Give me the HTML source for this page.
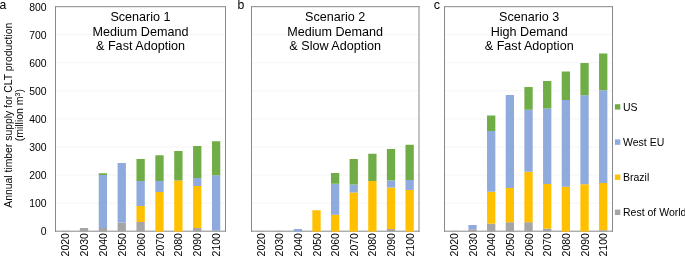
<!DOCTYPE html><html><head><meta charset="utf-8"><style>
html,body{margin:0;padding:0;background:#fff;width:685px;height:256px;overflow:hidden}
svg{display:block;will-change:transform}text{font-family:"Liberation Sans",sans-serif;fill:#000}
</style></head><body>
<svg width="685" height="256" viewBox="0 0 685 256">
<line x1="55.50" y1="203.12" x2="225.50" y2="203.12" stroke="#F5F5F5" stroke-width="1"/>
<line x1="55.50" y1="175.05" x2="225.50" y2="175.05" stroke="#F5F5F5" stroke-width="1"/>
<line x1="55.50" y1="146.97" x2="225.50" y2="146.97" stroke="#F5F5F5" stroke-width="1"/>
<line x1="55.50" y1="118.90" x2="225.50" y2="118.90" stroke="#F5F5F5" stroke-width="1"/>
<line x1="55.50" y1="90.82" x2="225.50" y2="90.82" stroke="#F5F5F5" stroke-width="1"/>
<line x1="55.50" y1="62.75" x2="225.50" y2="62.75" stroke="#F5F5F5" stroke-width="1"/>
<line x1="55.50" y1="34.67" x2="225.50" y2="34.67" stroke="#F5F5F5" stroke-width="1"/>
<path d="M55.00 6.70 H226.00 M55.50 6.20 V231.70 M225.50 6.20 V231.70 M55.00 231.20 H226.00" fill="none" stroke="#898989" stroke-width="1"/>
<rect x="61.00" y="230.80" width="8.30" height="0.80" fill="#A5A5A5"/>
<rect x="79.87" y="228.00" width="8.30" height="3.60" fill="#A5A5A5"/>
<rect x="98.74" y="228.00" width="8.30" height="3.60" fill="#A5A5A5"/>
<rect x="98.74" y="175.00" width="8.30" height="53.00" fill="#8FAADC"/>
<rect x="98.74" y="173.25" width="8.30" height="1.75" fill="#70AD47"/>
<rect x="117.61" y="222.50" width="8.30" height="9.10" fill="#A5A5A5"/>
<rect x="117.61" y="163.00" width="8.30" height="59.50" fill="#8FAADC"/>
<rect x="136.48" y="222.00" width="8.30" height="9.60" fill="#A5A5A5"/>
<rect x="136.48" y="206.00" width="8.30" height="16.00" fill="#FFC000"/>
<rect x="136.48" y="181.00" width="8.30" height="25.00" fill="#8FAADC"/>
<rect x="136.48" y="159.00" width="8.30" height="22.00" fill="#70AD47"/>
<rect x="155.35" y="192.00" width="8.30" height="39.60" fill="#FFC000"/>
<rect x="155.35" y="181.00" width="8.30" height="11.00" fill="#8FAADC"/>
<rect x="155.35" y="155.25" width="8.30" height="25.75" fill="#70AD47"/>
<rect x="174.22" y="180.50" width="8.30" height="51.10" fill="#FFC000"/>
<rect x="174.22" y="151.00" width="8.30" height="29.50" fill="#70AD47"/>
<rect x="193.09" y="228.00" width="8.30" height="3.60" fill="#A5A5A5"/>
<rect x="193.09" y="186.00" width="8.30" height="42.00" fill="#FFC000"/>
<rect x="193.09" y="178.00" width="8.30" height="8.00" fill="#8FAADC"/>
<rect x="193.09" y="146.00" width="8.30" height="32.00" fill="#70AD47"/>
<rect x="211.96" y="230.50" width="8.30" height="1.10" fill="#A5A5A5"/>
<rect x="211.96" y="175.25" width="8.30" height="55.25" fill="#8FAADC"/>
<rect x="211.96" y="141.25" width="8.30" height="34.00" fill="#70AD47"/>
<text x="140.50" y="21.00" font-size="12.60" text-anchor="middle">Scenario 1</text>
<text x="140.50" y="35.60" font-size="12.60" text-anchor="middle">Medium Demand</text>
<text x="140.50" y="50.20" font-size="12.60" text-anchor="middle">&amp; Fast Adoption</text>
<text transform="translate(69.20,233.1) rotate(-90)" font-size="10.50" text-anchor="end">2020</text>
<text transform="translate(88.07,233.1) rotate(-90)" font-size="10.50" text-anchor="end">2030</text>
<text transform="translate(106.94,233.1) rotate(-90)" font-size="10.50" text-anchor="end">2040</text>
<text transform="translate(125.81,233.1) rotate(-90)" font-size="10.50" text-anchor="end">2050</text>
<text transform="translate(144.68,233.1) rotate(-90)" font-size="10.50" text-anchor="end">2060</text>
<text transform="translate(163.55,233.1) rotate(-90)" font-size="10.50" text-anchor="end">2070</text>
<text transform="translate(182.42,233.1) rotate(-90)" font-size="10.50" text-anchor="end">2080</text>
<text transform="translate(201.29,233.1) rotate(-90)" font-size="10.50" text-anchor="end">2090</text>
<text transform="translate(220.16,233.1) rotate(-90)" font-size="10.50" text-anchor="end">2100</text>
<line x1="251.50" y1="203.12" x2="419.50" y2="203.12" stroke="#F5F5F5" stroke-width="1"/>
<line x1="251.50" y1="175.05" x2="419.50" y2="175.05" stroke="#F5F5F5" stroke-width="1"/>
<line x1="251.50" y1="146.97" x2="419.50" y2="146.97" stroke="#F5F5F5" stroke-width="1"/>
<line x1="251.50" y1="118.90" x2="419.50" y2="118.90" stroke="#F5F5F5" stroke-width="1"/>
<line x1="251.50" y1="90.82" x2="419.50" y2="90.82" stroke="#F5F5F5" stroke-width="1"/>
<line x1="251.50" y1="62.75" x2="419.50" y2="62.75" stroke="#F5F5F5" stroke-width="1"/>
<line x1="251.50" y1="34.67" x2="419.50" y2="34.67" stroke="#F5F5F5" stroke-width="1"/>
<path d="M251.00 6.70 H419.50 M251.50 6.20 V231.70 M419.00 6.20 V231.70 M251.00 231.20 H419.50" fill="none" stroke="#898989" stroke-width="1"/>
<rect x="256.45" y="230.90" width="8.30" height="0.70" fill="#A5A5A5"/>
<rect x="275.08" y="230.90" width="8.30" height="0.70" fill="#A5A5A5"/>
<rect x="293.71" y="229.00" width="8.30" height="2.60" fill="#8FAADC"/>
<rect x="312.34" y="210.25" width="8.30" height="21.35" fill="#FFC000"/>
<rect x="330.97" y="214.75" width="8.30" height="16.85" fill="#FFC000"/>
<rect x="330.97" y="183.75" width="8.30" height="31.00" fill="#8FAADC"/>
<rect x="330.97" y="173.00" width="8.30" height="10.75" fill="#70AD47"/>
<rect x="349.60" y="192.50" width="8.30" height="39.10" fill="#FFC000"/>
<rect x="349.60" y="184.50" width="8.30" height="8.00" fill="#8FAADC"/>
<rect x="349.60" y="159.00" width="8.30" height="25.50" fill="#70AD47"/>
<rect x="368.23" y="181.00" width="8.30" height="50.60" fill="#FFC000"/>
<rect x="368.23" y="153.75" width="8.30" height="27.25" fill="#70AD47"/>
<rect x="386.86" y="229.00" width="8.30" height="2.60" fill="#A5A5A5"/>
<rect x="386.86" y="187.50" width="8.30" height="41.50" fill="#FFC000"/>
<rect x="386.86" y="180.50" width="8.30" height="7.00" fill="#8FAADC"/>
<rect x="386.86" y="149.00" width="8.30" height="31.50" fill="#70AD47"/>
<rect x="405.49" y="190.00" width="8.30" height="41.60" fill="#FFC000"/>
<rect x="405.49" y="180.00" width="8.30" height="10.00" fill="#8FAADC"/>
<rect x="405.49" y="144.75" width="8.30" height="35.25" fill="#70AD47"/>
<text x="335.20" y="21.00" font-size="12.60" text-anchor="middle">Scenario 2</text>
<text x="335.20" y="35.60" font-size="12.60" text-anchor="middle">Medium Demand</text>
<text x="335.20" y="50.20" font-size="12.60" text-anchor="middle">&amp; Slow Adoption</text>
<text transform="translate(264.65,233.1) rotate(-90)" font-size="10.50" text-anchor="end">2020</text>
<text transform="translate(283.28,233.1) rotate(-90)" font-size="10.50" text-anchor="end">2030</text>
<text transform="translate(301.91,233.1) rotate(-90)" font-size="10.50" text-anchor="end">2040</text>
<text transform="translate(320.54,233.1) rotate(-90)" font-size="10.50" text-anchor="end">2050</text>
<text transform="translate(339.17,233.1) rotate(-90)" font-size="10.50" text-anchor="end">2060</text>
<text transform="translate(357.80,233.1) rotate(-90)" font-size="10.50" text-anchor="end">2070</text>
<text transform="translate(376.43,233.1) rotate(-90)" font-size="10.50" text-anchor="end">2080</text>
<text transform="translate(395.06,233.1) rotate(-90)" font-size="10.50" text-anchor="end">2090</text>
<text transform="translate(413.69,233.1) rotate(-90)" font-size="10.50" text-anchor="end">2100</text>
<line x1="444.50" y1="203.12" x2="612.50" y2="203.12" stroke="#F5F5F5" stroke-width="1"/>
<line x1="444.50" y1="175.05" x2="612.50" y2="175.05" stroke="#F5F5F5" stroke-width="1"/>
<line x1="444.50" y1="146.97" x2="612.50" y2="146.97" stroke="#F5F5F5" stroke-width="1"/>
<line x1="444.50" y1="118.90" x2="612.50" y2="118.90" stroke="#F5F5F5" stroke-width="1"/>
<line x1="444.50" y1="90.82" x2="612.50" y2="90.82" stroke="#F5F5F5" stroke-width="1"/>
<line x1="444.50" y1="62.75" x2="612.50" y2="62.75" stroke="#F5F5F5" stroke-width="1"/>
<line x1="444.50" y1="34.67" x2="612.50" y2="34.67" stroke="#F5F5F5" stroke-width="1"/>
<path d="M444.00 6.70 H613.00 M444.50 6.20 V231.70 M612.50 6.20 V231.70 M444.00 231.20 H613.00" fill="none" stroke="#898989" stroke-width="1"/>
<rect x="449.70" y="230.90" width="8.30" height="0.70" fill="#A5A5A5"/>
<rect x="468.37" y="229.20" width="8.30" height="2.40" fill="#A5A5A5"/>
<rect x="468.37" y="225.00" width="8.30" height="4.20" fill="#8FAADC"/>
<rect x="487.04" y="223.70" width="8.30" height="7.90" fill="#A5A5A5"/>
<rect x="487.04" y="191.75" width="8.30" height="31.95" fill="#FFC000"/>
<rect x="487.04" y="131.00" width="8.30" height="60.75" fill="#8FAADC"/>
<rect x="487.04" y="115.50" width="8.30" height="15.50" fill="#70AD47"/>
<rect x="505.71" y="222.20" width="8.30" height="9.40" fill="#A5A5A5"/>
<rect x="505.71" y="188.00" width="8.30" height="34.20" fill="#FFC000"/>
<rect x="505.71" y="95.00" width="8.30" height="93.00" fill="#8FAADC"/>
<rect x="524.38" y="222.20" width="8.30" height="9.40" fill="#A5A5A5"/>
<rect x="524.38" y="171.75" width="8.30" height="50.45" fill="#FFC000"/>
<rect x="524.38" y="109.75" width="8.30" height="62.00" fill="#8FAADC"/>
<rect x="524.38" y="87.00" width="8.30" height="22.75" fill="#70AD47"/>
<rect x="543.05" y="228.60" width="8.30" height="3.00" fill="#A5A5A5"/>
<rect x="543.05" y="184.00" width="8.30" height="44.60" fill="#FFC000"/>
<rect x="543.05" y="108.50" width="8.30" height="75.50" fill="#8FAADC"/>
<rect x="543.05" y="81.00" width="8.30" height="27.50" fill="#70AD47"/>
<rect x="561.72" y="186.75" width="8.30" height="44.85" fill="#FFC000"/>
<rect x="561.72" y="100.00" width="8.30" height="86.75" fill="#8FAADC"/>
<rect x="561.72" y="71.50" width="8.30" height="28.50" fill="#70AD47"/>
<rect x="580.39" y="184.25" width="8.30" height="47.35" fill="#FFC000"/>
<rect x="580.39" y="95.25" width="8.30" height="89.00" fill="#8FAADC"/>
<rect x="580.39" y="63.00" width="8.30" height="32.25" fill="#70AD47"/>
<rect x="599.06" y="230.20" width="8.30" height="1.40" fill="#A5A5A5"/>
<rect x="599.06" y="183.00" width="8.30" height="47.20" fill="#FFC000"/>
<rect x="599.06" y="90.25" width="8.30" height="92.75" fill="#8FAADC"/>
<rect x="599.06" y="53.50" width="8.30" height="36.75" fill="#70AD47"/>
<text x="529.20" y="21.00" font-size="12.60" text-anchor="middle">Scenario 3</text>
<text x="529.20" y="35.60" font-size="12.60" text-anchor="middle">High Demand</text>
<text x="529.20" y="50.20" font-size="12.60" text-anchor="middle">&amp; Fast Adoption</text>
<text transform="translate(457.90,233.1) rotate(-90)" font-size="10.50" text-anchor="end">2020</text>
<text transform="translate(476.57,233.1) rotate(-90)" font-size="10.50" text-anchor="end">2030</text>
<text transform="translate(495.24,233.1) rotate(-90)" font-size="10.50" text-anchor="end">2040</text>
<text transform="translate(513.91,233.1) rotate(-90)" font-size="10.50" text-anchor="end">2050</text>
<text transform="translate(532.58,233.1) rotate(-90)" font-size="10.50" text-anchor="end">2060</text>
<text transform="translate(551.25,233.1) rotate(-90)" font-size="10.50" text-anchor="end">2070</text>
<text transform="translate(569.92,233.1) rotate(-90)" font-size="10.50" text-anchor="end">2080</text>
<text transform="translate(588.59,233.1) rotate(-90)" font-size="10.50" text-anchor="end">2090</text>
<text transform="translate(607.26,233.1) rotate(-90)" font-size="10.50" text-anchor="end">2100</text>
<text x="46.6" y="235.30" font-size="10.4" text-anchor="end">0</text>
<text x="46.6" y="207.22" font-size="10.4" text-anchor="end">100</text>
<text x="46.6" y="179.15" font-size="10.4" text-anchor="end">200</text>
<text x="46.6" y="151.07" font-size="10.4" text-anchor="end">300</text>
<text x="46.6" y="123.00" font-size="10.4" text-anchor="end">400</text>
<text x="46.6" y="94.92" font-size="10.4" text-anchor="end">500</text>
<text x="46.6" y="66.85" font-size="10.4" text-anchor="end">600</text>
<text x="46.6" y="38.77" font-size="10.4" text-anchor="end">700</text>
<text x="46.6" y="10.70" font-size="10.4" text-anchor="end">800</text>
<text transform="translate(11.5,115.3) rotate(-90)" font-size="10.4" text-anchor="middle">Annual timber supply for CLT production</text>
<text transform="translate(23.4,115.2) rotate(-90)" font-size="10.50" text-anchor="middle">(million m<tspan font-size="7" dy="-3.5">3</tspan><tspan dy="3.5">)</tspan></text>
<text x="-0.5" y="8.8" font-size="12.2">a</text>
<text x="237.4" y="8.8" font-size="12.2">b</text>
<text x="433.7" y="9.0" font-size="12.6">c</text>
<rect x="614.9" y="104.20" width="5.4" height="5.4" fill="#70AD47"/>
<text x="623.0" y="110.70" font-size="10.50">US</text>
<rect x="614.9" y="139.40" width="5.4" height="5.4" fill="#8FAADC"/>
<text x="623.0" y="145.90" font-size="10.50">West EU</text>
<rect x="614.9" y="174.50" width="5.4" height="5.4" fill="#FFC000"/>
<text x="623.0" y="181.00" font-size="10.50">Brazil</text>
<rect x="614.9" y="209.60" width="5.4" height="5.4" fill="#A5A5A5"/>
<text x="623.0" y="216.10" font-size="10.50">Rest of World</text>
</svg></body></html>
